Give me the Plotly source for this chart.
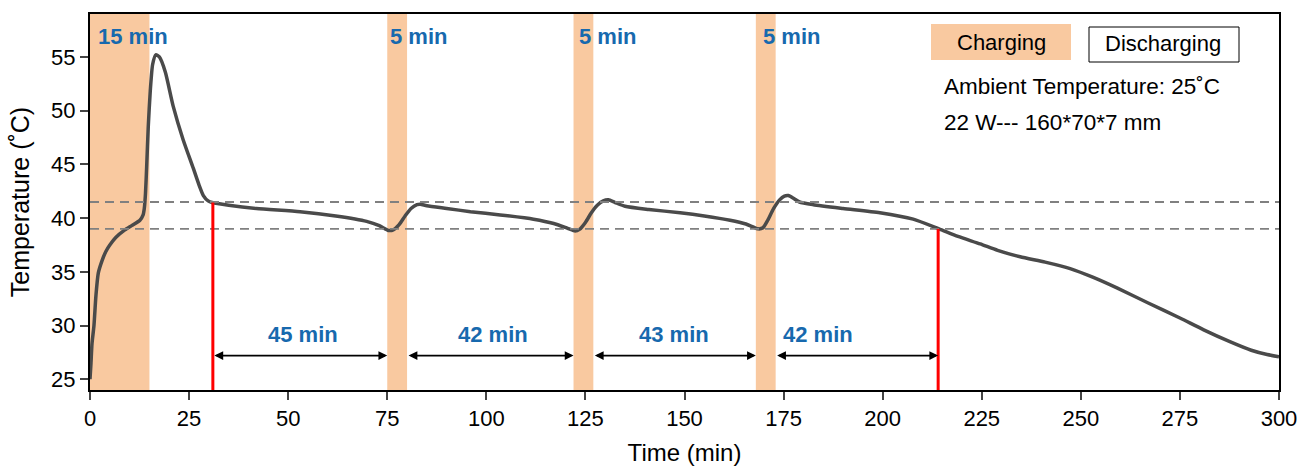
import plotly.graph_objects as go

# Battery surface temperature during charge/discharge cycles
time_min = [0, 0.25, 0.5, 1, 1.5, 2.1, 3, 4, 5, 6.5, 8.8, 10.5, 12.6, 13.4, 13.7, 14.0, 14.3, 14.7, 15.2,
            15.8, 16.6, 17.5, 19, 21, 23.5, 26.1, 27.5, 28.6, 29.8, 30.8,
            35, 42, 53, 62, 69.8, 73, 75.3, 76.5, 78, 79.5, 81, 82.5, 83.3, 85, 90, 96, 103.5, 111.9, 117, 120.5, 122.4,
            123.5, 125, 126.5, 128, 129.5, 130.8, 132.5, 135, 141, 148.9, 155, 161.5, 165.5, 168.6,
            169.8, 171, 172.5, 174, 175.2, 176.2, 177.5, 179, 182.5, 190, 199.3, 207.7, 214.2,
            219, 224.6, 229, 234.7, 241, 247.3, 253, 259.1, 267, 275, 281, 287.6, 293, 297, 300]
temp_c = [25.0, 26.5, 28.3, 30.0, 32.8, 34.9, 36.0, 36.9, 37.5, 38.2, 38.9, 39.3, 39.8, 40.3, 40.9, 42.3, 44.8, 48.5, 51.8,
          54.3, 55.2, 55.0, 53.6, 50.4, 47.3, 44.6, 43.1, 42.1, 41.6, 41.45,
          41.2, 40.9, 40.6, 40.2, 39.7, 39.3, 38.85, 38.9, 39.4, 40.2, 40.9, 41.25, 41.3, 41.15, 40.9, 40.6, 40.3, 39.9, 39.5, 39.05, 38.8,
          38.95, 39.6, 40.5, 41.2, 41.6, 41.7, 41.45, 41.1, 40.8, 40.5, 40.2, 39.8, 39.45, 39.0,
          39.1, 39.8, 40.9, 41.7, 42.05, 42.1, 41.85, 41.5, 41.25, 40.9, 40.5, 39.9, 39.0,
          38.3, 37.6, 37.0, 36.4, 35.9, 35.3, 34.5, 33.5, 32.1, 30.7, 29.6, 28.5, 27.7, 27.3, 27.1]

# Charging windows (start, end) in minutes and their labels
charge_start = [0, 75, 122, 168]
charge_end = [15, 80, 127, 173]
charge_labels = ["15 min", "5 min", "5 min", "5 min"]
charge_label_x = [1.5, 75.2, 123.0, 169.2]

# Discharge intervals between charges
interval_start = [31, 80, 127, 173]
interval_end = [75, 122, 168, 214]
interval_labels = ["45 min", "42 min", "43 min", "42 min"]
interval_label_x = [53.8, 101.8, 147.4, 183.7]

# Threshold levels and the red markers
upper_level = 41.5
lower_level = 39.0
marker_time = [31, 214]
marker_temp = [41.45, 39.0]

x_ticks = [0, 25, 50, 75, 100, 125, 150, 175, 200, 225, 250, 275, 300]
y_ticks = [25, 30, 35, 40, 45, 50, 55]

PEACH = "#F9C9A0"
BLUE = "#1769AE"
FONT = "Liberation Sans, Arial, sans-serif"

fig = go.Figure()

shapes = []
for s, e in zip(charge_start, charge_end):
    shapes.append(dict(type="rect", xref="x", yref="paper", x0=s, x1=e, y0=0, y1=1,
                       fillcolor=PEACH, line=dict(width=0), layer="below"))
for lvl in (upper_level, lower_level):
    shapes.append(dict(type="line", xref="paper", yref="y", x0=0, x1=1, y0=lvl, y1=lvl,
                       line=dict(color="#808080", width=1.8, dash="9px,6px")))
for t, v in zip(marker_time, marker_temp):
    shapes.append(dict(type="line", xref="x", yref="y", x0=t, x1=t, y0=24, y1=v,
                       line=dict(color="#FF0000", width=3)))

fig.add_trace(go.Scatter(x=time_min, y=temp_c, mode="lines",
                         line=dict(color="#4A4A4A", width=3.5, shape="spline", smoothing=0.6),
                         hoverinfo="x+y", showlegend=False))

annotations = []
for lx, txt in zip(charge_label_x, charge_labels):
    annotations.append(dict(x=lx, y=56.9, xref="x", yref="y", text=f"<b>{txt}</b>",
                            showarrow=False, xanchor="left", yanchor="middle",
                            font=dict(family=FONT, size=22, color=BLUE)))
for s, e in zip(interval_start, interval_end):
    annotations.append(dict(x=e, y=27.2, ax=s, ay=27.2, xref="x", yref="y", axref="x", ayref="y",
                            text="", showarrow=True, arrowside="end+start", arrowhead=2,
                            arrowsize=1.1, arrowwidth=1.6, arrowcolor="#000000", standoff=0, startstandoff=0))
for lx, txt in zip(interval_label_x, interval_labels):
    annotations.append(dict(x=lx, y=29.2, xref="x", yref="y", text=f"<b>{txt}</b>",
                            showarrow=False, xanchor="center", yanchor="middle",
                            font=dict(family=FONT, size=22, color=BLUE)))

# Legend-style boxes and notes in the upper right (pixel positions via paper coords)
plot_l, plot_r, plot_t, plot_b = 90, 1279, 14, 390
def px(xp):
    return (xp - plot_l) / (plot_r - plot_l)
def py(yp):
    return (plot_b - yp) / (plot_b - plot_t)

shapes.append(dict(type="rect", xref="paper", yref="paper", x0=px(931), x1=px(1071), y0=py(60), y1=py(24),
                   fillcolor=PEACH, line=dict(width=0)))
shapes.append(dict(type="rect", xref="paper", yref="paper", x0=px(1089), x1=px(1239), y0=py(62), y1=py(27),
                   fillcolor="white", line=dict(color="#000000", width=1)))
annotations.append(dict(x=px(1001), y=py(42), xref="paper", yref="paper", text="Charging", showarrow=False,
                        xanchor="center", yanchor="middle", font=dict(family=FONT, size=22, color="#000000")))
annotations.append(dict(x=px(1163), y=py(44), xref="paper", yref="paper", text="Discharging", showarrow=False,
                        xanchor="center", yanchor="middle", font=dict(family=FONT, size=22, color="#000000")))
annotations.append(dict(x=px(942), y=py(86), xref="paper", yref="paper", text="Ambient Temperature: 25˚C",
                        showarrow=False, xanchor="left", yanchor="middle",
                        font=dict(family=FONT, size=22.5, color="#000000")))
annotations.append(dict(x=px(942), y=py(122), xref="paper", yref="paper", text="22 W--- 160*70*7 mm",
                        showarrow=False, xanchor="left", yanchor="middle",
                        font=dict(family=FONT, size=22.5, color="#000000")))

fig.update_layout(
    width=1312, height=470,
    margin=dict(l=90, r=33, t=14, b=80),
    paper_bgcolor="white", plot_bgcolor="white",
    font=dict(family=FONT, size=22, color="#000000"),
    shapes=shapes, annotations=annotations,
    xaxis=dict(range=[0, 300], tickvals=x_ticks, ticks="outside", ticklen=8, tickwidth=1.5,
               showline=True, linecolor="#000000", linewidth=2, mirror=True, showgrid=False, zeroline=False,
               automargin=False,
               title=dict(text="Time (min)", font=dict(size=24), standoff=14),
               tickfont=dict(size=22)),
    yaxis=dict(range=[24, 59], tickvals=y_ticks, ticks="outside", ticklen=8, tickwidth=1.5,
               showline=True, linecolor="#000000", linewidth=2, mirror=True, showgrid=False, zeroline=False,
               automargin=False,
               title=dict(text="Temperature (˚C)", font=dict(size=25), standoff=14),
               tickfont=dict(size=22)),
)

fig.write_html("out.html")
